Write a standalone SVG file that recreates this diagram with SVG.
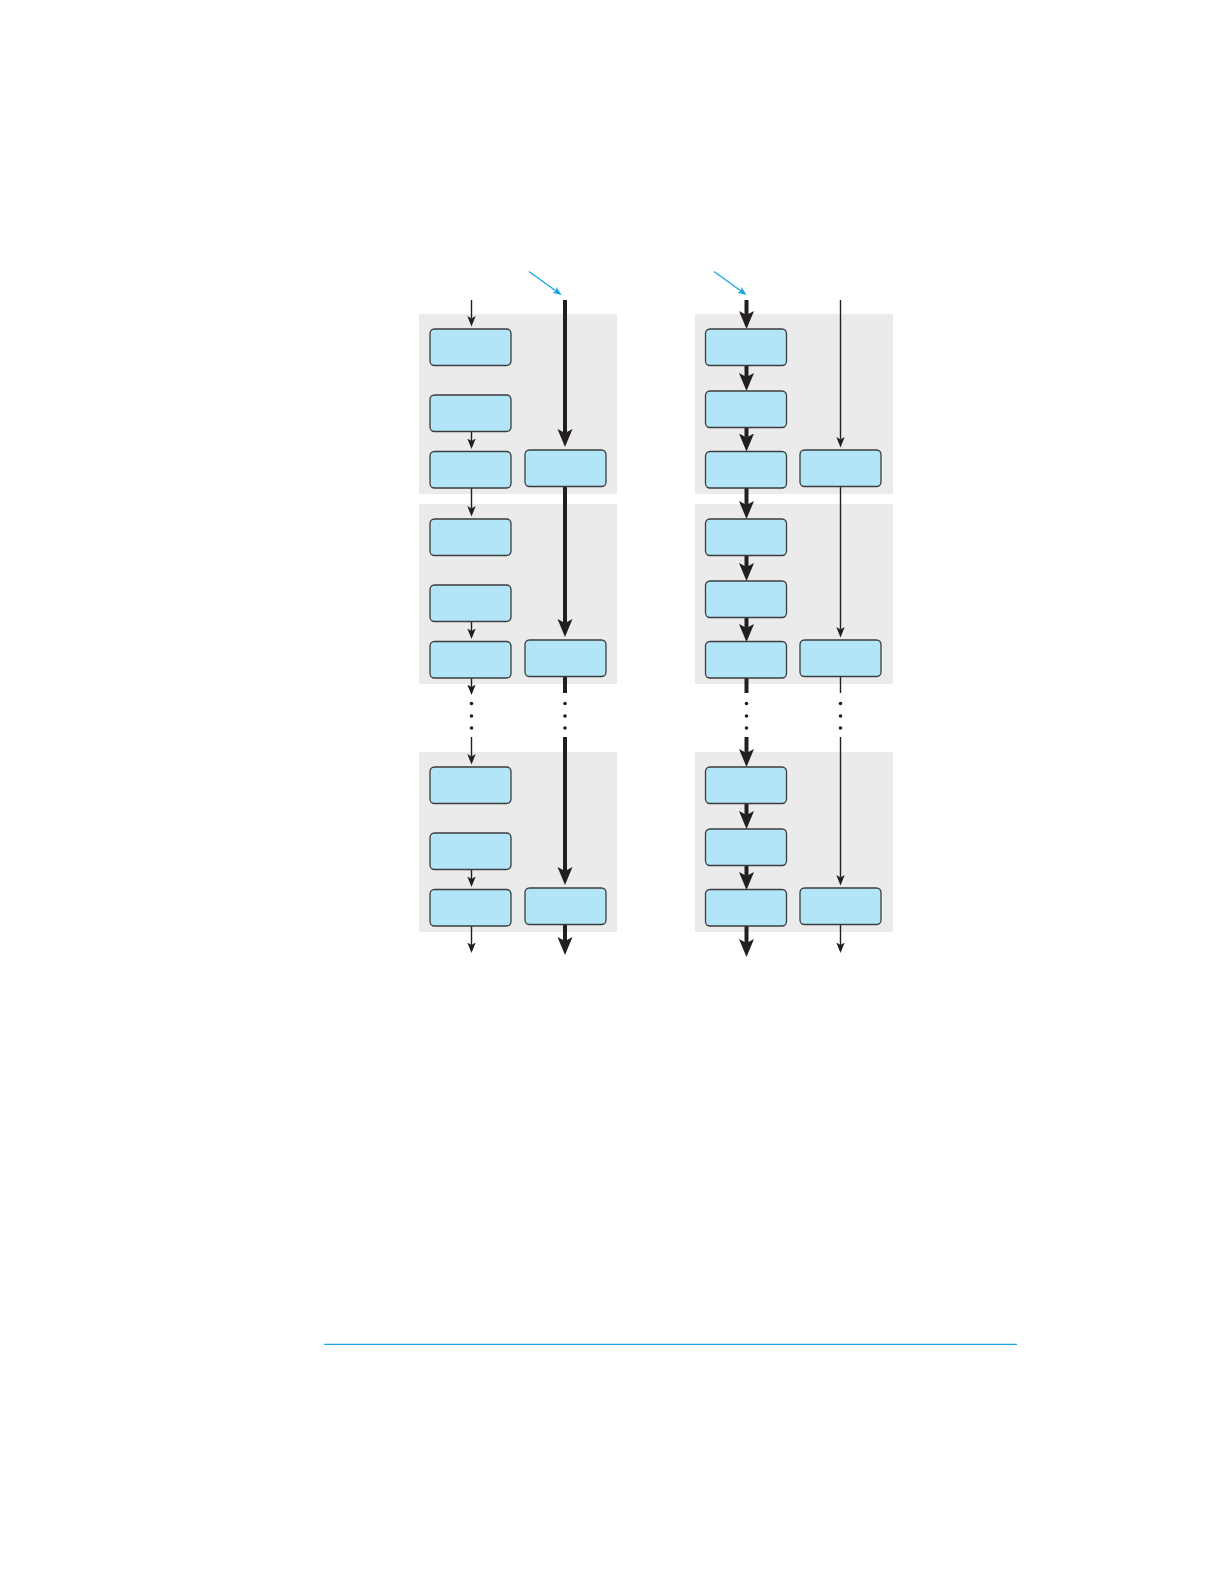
<svg xmlns="http://www.w3.org/2000/svg" width="1225" height="1585" viewBox="0 0 1225 1585">
<style>
.panel{fill:#ebebeb;stroke:none}
.box{fill:#b3e5f8;stroke:#3c3c3c;stroke-width:1.3}
.thin{stroke:#231f20;stroke-width:1.4;fill:none}
.thick{stroke:#231f20;stroke-width:4;fill:none}
.blue{stroke:#1ba6df;stroke-width:1.3;fill:none}
.dot{fill:#231f20}
</style>
<defs>
<marker id="ah" markerUnits="userSpaceOnUse" markerWidth="12" markerHeight="10" viewBox="0 -5 12 10" refX="2.5" refY="0" orient="auto"><path d="M0,-4.2 L10.5,0 L0,4.2 L2.5,0 z" fill="#231f20"/></marker>
<marker id="ahT" markerUnits="userSpaceOnUse" markerWidth="20" markerHeight="18" viewBox="0 -9 20 18" refX="4" refY="0" orient="auto"><path d="M0,-7.5 L18,0 L0,7.5 L4,0 z" fill="#231f20"/></marker>
<marker id="ahB" markerUnits="userSpaceOnUse" markerWidth="12" markerHeight="10" viewBox="0 -5 12 10" refX="2" refY="0" orient="auto"><path d="M0,-3.5 L9,0 L0,3.5 L2,0 z" fill="#1ba6df"/></marker>
</defs>

<g id="panels">
<rect id="panel-L1" class="panel" x="419" y="314" width="198" height="180"/>
<rect id="panel-L2" class="panel" x="419" y="504" width="198" height="180"/>
<rect id="panel-L3" class="panel" x="419" y="752" width="198" height="180"/>
<rect id="panel-R1" class="panel" x="695" y="314" width="198" height="180"/>
<rect id="panel-R2" class="panel" x="695" y="504" width="198" height="180"/>
<rect id="panel-R3" class="panel" x="695" y="752" width="198" height="180"/>
</g>

<g id="connectors">
<line class="thin" x1="471.5" y1="300" x2="471.5" y2="318.5" marker-end="url(#ah)"/>
<line class="thin" x1="471.5" y1="431" x2="471.5" y2="441" marker-end="url(#ah)"/>
<line class="thin" x1="471.5" y1="487.5" x2="471.5" y2="508.5" marker-end="url(#ah)"/>
<line class="thin" x1="471.5" y1="621" x2="471.5" y2="631" marker-end="url(#ah)"/>
<line class="thin" x1="471.5" y1="677.5" x2="471.5" y2="687" marker-end="url(#ah)"/>
<line class="thin" x1="471.5" y1="737" x2="471.5" y2="756.5" marker-end="url(#ah)"/>
<line class="thin" x1="471.5" y1="869" x2="471.5" y2="879" marker-end="url(#ah)"/>
<line class="thin" x1="471.5" y1="925.5" x2="471.5" y2="945" marker-end="url(#ah)"/>
<line class="thick" x1="565" y1="300" x2="565" y2="433" marker-end="url(#ahT)"/>
<line class="thick" x1="565" y1="486" x2="565" y2="623" marker-end="url(#ahT)"/>
<line class="thick" x1="565" y1="676" x2="565" y2="693"/>
<line class="thick" x1="565" y1="737" x2="565" y2="871" marker-end="url(#ahT)"/>
<line class="thick" x1="565" y1="924" x2="565" y2="941" marker-end="url(#ahT)"/>
<line class="thick" x1="746.5" y1="300" x2="746.5" y2="315" marker-end="url(#ahT)"/>
<line class="thick" x1="746.5" y1="365" x2="746.5" y2="377" marker-end="url(#ahT)"/>
<line class="thick" x1="746.5" y1="427" x2="746.5" y2="437.5" marker-end="url(#ahT)"/>
<line class="thick" x1="746.5" y1="487.5" x2="746.5" y2="505" marker-end="url(#ahT)"/>
<line class="thick" x1="746.5" y1="555" x2="746.5" y2="567" marker-end="url(#ahT)"/>
<line class="thick" x1="746.5" y1="617" x2="746.5" y2="628" marker-end="url(#ahT)"/>
<line class="thick" x1="746.5" y1="677.5" x2="746.5" y2="693"/>
<line class="thick" x1="746.5" y1="737" x2="746.5" y2="753" marker-end="url(#ahT)"/>
<line class="thick" x1="746.5" y1="803" x2="746.5" y2="815" marker-end="url(#ahT)"/>
<line class="thick" x1="746.5" y1="865" x2="746.5" y2="876" marker-end="url(#ahT)"/>
<line class="thick" x1="746.5" y1="925.5" x2="746.5" y2="943" marker-end="url(#ahT)"/>
<line class="thin" x1="840.5" y1="300" x2="840.5" y2="439.5" marker-end="url(#ah)"/>
<line class="thin" x1="840.5" y1="486" x2="840.5" y2="629.5" marker-end="url(#ah)"/>
<line class="thin" x1="840.5" y1="676" x2="840.5" y2="693"/>
<line class="thin" x1="840.5" y1="737" x2="840.5" y2="877.5" marker-end="url(#ah)"/>
<line class="thin" x1="840.5" y1="924" x2="840.5" y2="945" marker-end="url(#ah)"/>
<circle class="dot" cx="471.5" cy="703.5" r="1.8"/><circle class="dot" cx="471.5" cy="716" r="1.8"/><circle class="dot" cx="471.5" cy="728" r="1.8"/>
<circle class="dot" cx="565" cy="703.5" r="1.8"/><circle class="dot" cx="565" cy="716" r="1.8"/><circle class="dot" cx="565" cy="728" r="1.8"/>
<circle class="dot" cx="746.5" cy="703.5" r="1.8"/><circle class="dot" cx="746.5" cy="716" r="1.8"/><circle class="dot" cx="746.5" cy="728" r="1.8"/>
<circle class="dot" cx="840.5" cy="703.5" r="1.8"/><circle class="dot" cx="840.5" cy="716" r="1.8"/><circle class="dot" cx="840.5" cy="728" r="1.8"/>
<line class="blue" x1="529" y1="271.5" x2="556" y2="291" marker-end="url(#ahB)"/>
<line class="blue" x1="714" y1="271.5" x2="741" y2="291" marker-end="url(#ahB)"/>
</g>

<g id="nodes">
<g id="L1a"><rect class="box" x="430" y="329" width="81" height="36.5" rx="4.5"/></g>
<g id="L1b"><rect class="box" x="430" y="395" width="81" height="36.5" rx="4.5"/></g>
<g id="L1c"><rect class="box" x="430" y="451.5" width="81" height="36.5" rx="4.5"/></g>
<g id="L1d"><rect class="box" x="525" y="450" width="81" height="36.5" rx="4.5"/></g>
<g id="L2a"><rect class="box" x="430" y="519" width="81" height="36.5" rx="4.5"/></g>
<g id="L2b"><rect class="box" x="430" y="585" width="81" height="36.5" rx="4.5"/></g>
<g id="L2c"><rect class="box" x="430" y="641.5" width="81" height="36.5" rx="4.5"/></g>
<g id="L2d"><rect class="box" x="525" y="640" width="81" height="36.5" rx="4.5"/></g>
<g id="L3a"><rect class="box" x="430" y="767" width="81" height="36.5" rx="4.5"/></g>
<g id="L3b"><rect class="box" x="430" y="833" width="81" height="36.5" rx="4.5"/></g>
<g id="L3c"><rect class="box" x="430" y="889.5" width="81" height="36.5" rx="4.5"/></g>
<g id="L3d"><rect class="box" x="525" y="888" width="81" height="36.5" rx="4.5"/></g>
<g id="R1a"><rect class="box" x="705.5" y="329" width="81" height="36.5" rx="4.5"/></g>
<g id="R1b"><rect class="box" x="705.5" y="391" width="81" height="36.5" rx="4.5"/></g>
<g id="R1c"><rect class="box" x="705.5" y="451.5" width="81" height="36.5" rx="4.5"/></g>
<g id="R1d"><rect class="box" x="800" y="450" width="81" height="36.5" rx="4.5"/></g>
<g id="R2a"><rect class="box" x="705.5" y="519" width="81" height="36.5" rx="4.5"/></g>
<g id="R2b"><rect class="box" x="705.5" y="581" width="81" height="36.5" rx="4.5"/></g>
<g id="R2c"><rect class="box" x="705.5" y="641.5" width="81" height="36.5" rx="4.5"/></g>
<g id="R2d"><rect class="box" x="800" y="640" width="81" height="36.5" rx="4.5"/></g>
<g id="R3a"><rect class="box" x="705.5" y="767" width="81" height="36.5" rx="4.5"/></g>
<g id="R3b"><rect class="box" x="705.5" y="829" width="81" height="36.5" rx="4.5"/></g>
<g id="R3c"><rect class="box" x="705.5" y="889.5" width="81" height="36.5" rx="4.5"/></g>
<g id="R3d"><rect class="box" x="800" y="888" width="81" height="36.5" rx="4.5"/></g>
</g>

<line id="rule" class="blue" x1="324" y1="1344.3" x2="1017" y2="1344.3" stroke-width="1.4"/>
</svg>
